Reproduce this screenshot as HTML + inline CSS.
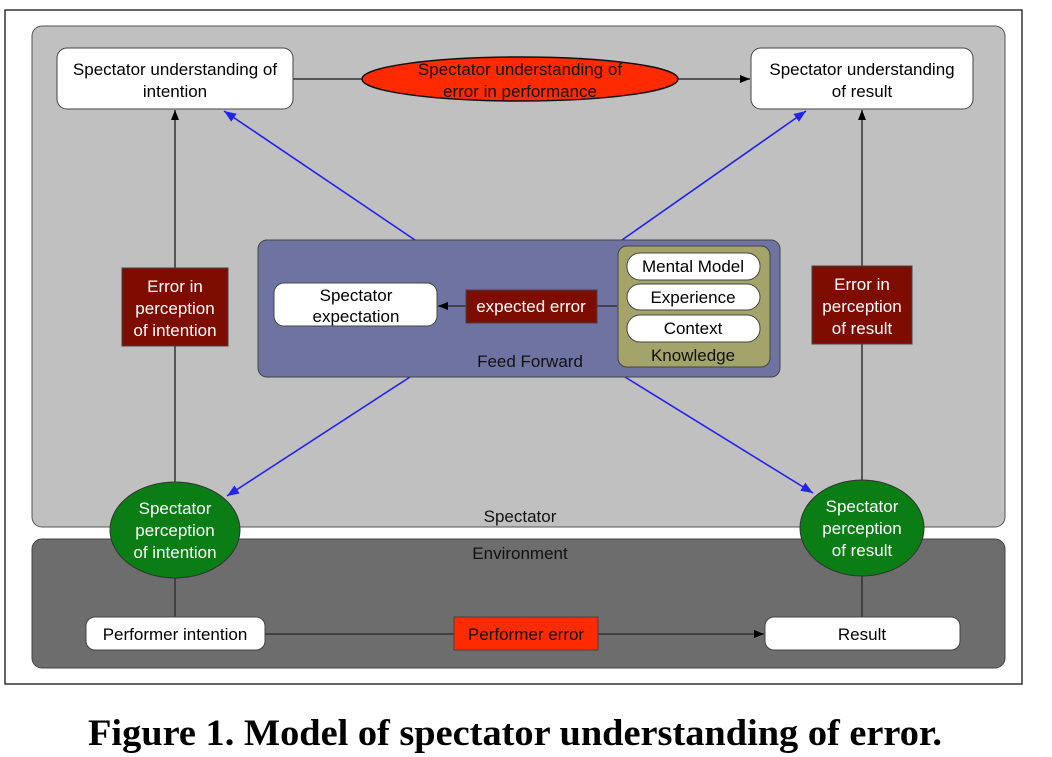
<!DOCTYPE html>
<html><head><meta charset="utf-8"><style>
html,body{margin:0;padding:0;background:#fff;}
svg{display:block;font-family:"Liberation Sans",sans-serif;}
svg text{font-size:17px;}
</style></head><body>
<svg width="1052" height="757" viewBox="0 0 1052 757" xmlns="http://www.w3.org/2000/svg">
<defs>
<marker id="ab" viewBox="0 0 10 10" refX="10" refY="5" markerWidth="10" markerHeight="10" markerUnits="userSpaceOnUse" orient="auto"><path d="M0,1 L10,5 L0,9 z" fill="#000"/></marker>
<marker id="ablue" viewBox="0 0 10 10" refX="10" refY="5" markerWidth="12" markerHeight="12" markerUnits="userSpaceOnUse" orient="auto"><path d="M0,1 L10,5 L0,9 z M-5,1 L5,5 L-5,9 z" fill="#2222ee"/></marker>
</defs>
<rect x="5" y="10" width="1017" height="674" fill="#fff" stroke="#333" stroke-width="1.5"/>
<rect x="32" y="26" width="973" height="501" rx="10" fill="#c0c0c0" stroke="#555" stroke-width="1"/>
<rect x="32" y="539" width="973" height="129" rx="10" fill="#6d6d6d" stroke="#444" stroke-width="1"/>
<text x="520" y="522" text-anchor="middle" fill="#111">Spectator</text>
<text x="520" y="559" text-anchor="middle" fill="#111">Environment</text>

<line x1="293" y1="79" x2="362" y2="79" stroke="#333" stroke-width="1.5"/>
<line x1="677" y1="79" x2="750" y2="79" stroke="#333" stroke-width="1.5" marker-end="url(#ab)"/>
<line x1="175" y1="482" x2="175" y2="110" stroke="#333" stroke-width="1.5" marker-end="url(#ab)"/>
<line x1="862" y1="480" x2="862" y2="110" stroke="#333" stroke-width="1.5" marker-end="url(#ab)"/>
<line x1="175" y1="576" x2="175" y2="618" stroke="#333" stroke-width="1.5"/>
<line x1="862" y1="576" x2="862" y2="618" stroke="#333" stroke-width="1.5"/>
<line x1="265" y1="634" x2="764" y2="634" stroke="#333" stroke-width="1.5" marker-end="url(#ab)"/>
<line x1="415" y1="240" x2="224" y2="111" stroke="#2222ee" stroke-width="1.6" marker-end="url(#ablue)"/>
<line x1="622" y1="240" x2="806" y2="111" stroke="#2222ee" stroke-width="1.6" marker-end="url(#ablue)"/>
<line x1="410" y1="377" x2="227" y2="496" stroke="#2222ee" stroke-width="1.6" marker-end="url(#ablue)"/>
<line x1="625" y1="377" x2="813" y2="493" stroke="#2222ee" stroke-width="1.6" marker-end="url(#ablue)"/>

<rect x="57" y="48" width="236" height="61" rx="10" fill="#fff" stroke="#444" stroke-width="1"/>
<text x="175" y="75" text-anchor="middle">Spectator understanding of</text>
<text x="175" y="97" text-anchor="middle">intention</text>
<ellipse cx="520" cy="79" rx="158" ry="22" fill="#ff2a00" stroke="#111" stroke-width="1.5"/>
<text x="520" y="75" text-anchor="middle" fill="#111">Spectator understanding of</text>
<text x="520" y="97" text-anchor="middle" fill="#111">error in performance</text>
<rect x="751" y="48" width="222" height="61" rx="10" fill="#fff" stroke="#444" stroke-width="1"/>
<text x="862" y="75" text-anchor="middle">Spectator understanding</text>
<text x="862" y="97" text-anchor="middle">of result</text>

<rect x="122" y="268" width="106" height="78" fill="#7d0d00" stroke="#444"/>
<text x="175" y="292" text-anchor="middle" fill="#fff">Error in</text>
<text x="175" y="314" text-anchor="middle" fill="#fff">perception</text>
<text x="175" y="336" text-anchor="middle" fill="#fff">of intention</text>
<rect x="812" y="266" width="100" height="78" fill="#7d0d00" stroke="#444"/>
<text x="862" y="290" text-anchor="middle" fill="#fff">Error in</text>
<text x="862" y="312" text-anchor="middle" fill="#fff">perception</text>
<text x="862" y="334" text-anchor="middle" fill="#fff">of result</text>

<rect x="258" y="240" width="522" height="137" rx="9" fill="#6e73a1" stroke="#444"/>
<text x="530" y="367" text-anchor="middle" fill="#111">Feed Forward</text>
<rect x="274" y="283" width="163" height="43" rx="10" fill="#fff" stroke="#444"/>
<text x="356" y="301" text-anchor="middle">Spectator</text>
<text x="356" y="322" text-anchor="middle">expectation</text>
<line x1="617" y1="306" x2="597" y2="306" stroke="#333" stroke-width="1.5"/>
<line x1="466" y1="306" x2="438" y2="306" stroke="#333" stroke-width="1.5" marker-end="url(#ab)"/>
<rect x="466" y="290" width="131" height="33" fill="#7d0d00" stroke="#444"/>
<text x="531" y="312" text-anchor="middle" fill="#fff">expected error</text>
<rect x="618" y="246" width="152" height="121" rx="9" fill="#a3a36a" stroke="#444"/>
<rect x="627" y="253" width="133" height="27" rx="13" fill="#fff" stroke="#444"/>
<text x="693" y="272" text-anchor="middle">Mental Model</text>
<rect x="627" y="284" width="133" height="26" rx="13" fill="#fff" stroke="#444"/>
<text x="693" y="303" text-anchor="middle">Experience</text>
<rect x="627" y="315" width="133" height="27" rx="13" fill="#fff" stroke="#444"/>
<text x="693" y="334" text-anchor="middle">Context</text>
<text x="693" y="361" text-anchor="middle" fill="#111">Knowledge</text>

<ellipse cx="175" cy="530" rx="65" ry="48" fill="#0a7d14" stroke="#333"/>
<text x="175" y="514" text-anchor="middle" fill="#fff">Spectator</text>
<text x="175" y="536" text-anchor="middle" fill="#fff">perception</text>
<text x="175" y="558" text-anchor="middle" fill="#fff">of intention</text>
<ellipse cx="862" cy="528" rx="62" ry="48" fill="#0a7d14" stroke="#333"/>
<text x="862" y="512" text-anchor="middle" fill="#fff">Spectator</text>
<text x="862" y="534" text-anchor="middle" fill="#fff">perception</text>
<text x="862" y="556" text-anchor="middle" fill="#fff">of result</text>

<rect x="86" y="617" width="179" height="33" rx="9" fill="#fff" stroke="#444"/>
<text x="175" y="640" text-anchor="middle">Performer intention</text>
<rect x="454" y="617" width="144" height="33" fill="#ff2a00" stroke="#444"/>
<text x="526" y="640" text-anchor="middle" fill="#111">Performer error</text>
<rect x="765" y="617" width="195" height="33" rx="9" fill="#fff" stroke="#444"/>
<text x="862" y="640" text-anchor="middle">Result</text>

<text x="88" y="745" style="font-size:37px" font-weight="bold" font-family="Liberation Serif, serif" textLength="854" lengthAdjust="spacingAndGlyphs">Figure 1. Model of spectator understanding of error.</text>
</svg>
</body></html>
